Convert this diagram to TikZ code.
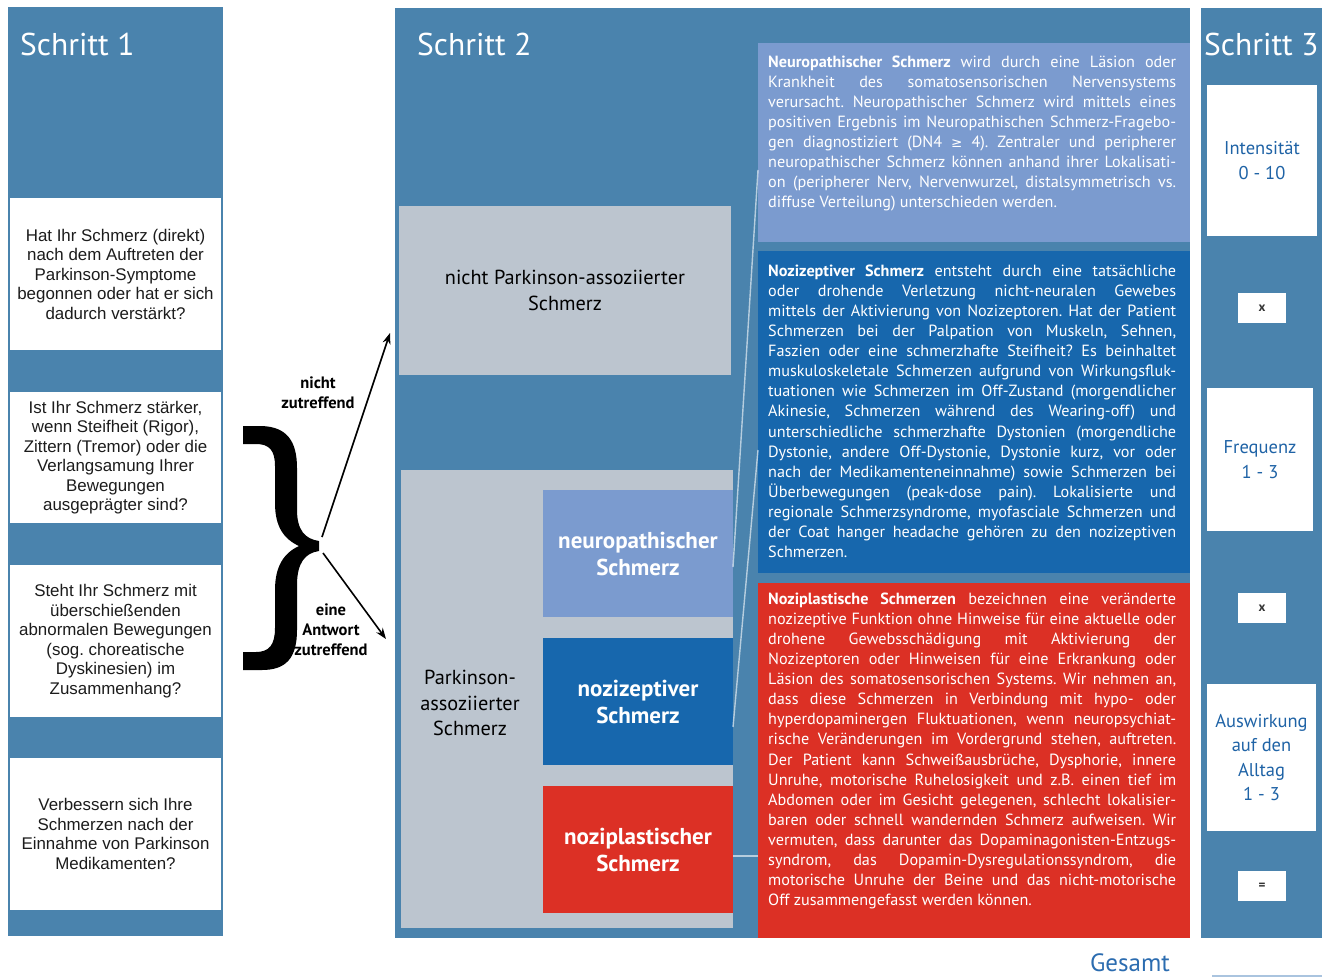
\documentclass[tikz,border=0pt]{standalone}
\usepackage{fontspec}
\setmainfont{PT Sans}
\newfontfamily\arialf{Liberation Sans}
\newfontfamily\djv{DejaVu Sans}
\usetikzlibrary{arrows.meta}
\definecolor{panel}{HTML}{4A83AD}
\definecolor{grayb}{HTML}{BCC5CF}
\definecolor{neuc}{HTML}{7B9BCF}
\definecolor{nozc}{HTML}{1767AD}
\definecolor{nplc}{HTML}{DC3025}
\definecolor{sthree}{HTML}{1F63A6}
\definecolor{gesc}{HTML}{2B6CB0}
\definecolor{qtext}{HTML}{1C1C1C}
\newcommand\jline[1]{\hbox to 408pt{#1}}
\newcommand\lline[1]{\hbox to 408pt{#1\hfil}}
\tikzset{
  nw/.style={anchor=north west, inner sep=0pt, outer sep=0pt, draw=none},
  panelbox/.style={nw, fill=panel},
  title/.style={anchor=base west, inner sep=0pt, text=white, font=\fontsize{31.5}{36}\selectfont},
  qbox/.style={nw, fill=white, minimum width=211pt, align=center, text=qtext,
     font=\arialf\fontsize{16.9}{19.5}\selectfont},
  catbox/.style={nw, fill=grayb, align=center, font=\fontsize{20.3}{25.5}\selectfont},
  subbox/.style={nw, minimum width=190pt, minimum height=127pt, align=center, text=white,
     font=\bfseries\fontsize{23}{27}\selectfont},
  txtbox/.style={nw, minimum width=432pt},
  bodytxt/.style={anchor=base west, inner sep=0pt, text=white},
  s3box/.style={nw, fill=white, align=center, text=sthree, font=\fontsize{18.5}{24.5}\selectfont},
  opbox/.style={nw, fill=white, minimum width=48pt, minimum height=30pt, align=center, text=black!80,
     font=\bfseries\fontsize{13}{14}\selectfont},
  lbl/.style={align=center, inner sep=0pt, font=\bfseries\fontsize{16.5}{20}\selectfont},
  arr/.style={-{Stealth[length=11pt,width=8pt]}, line width=1.6pt, black},
  faint/.style={draw=white, opacity=0.6, line width=1.4pt}
}
\begin{document}
\frenchspacing
\begin{tikzpicture}[x=1pt,y=-1pt]
\useasboundingbox (0,0) rectangle (1324,977);
\fill[white] (0,0) rectangle (1324,977);

% ---------- Schritt 1 ----------
\node[panelbox, minimum width=215pt, minimum height=929pt] (p1) at (8,7) {};
\node[title] (t1) at (20,55) {Schritt 1};
\node[qbox, minimum height=152pt] (q1) at (10,198) {Hat Ihr Schmerz (direkt)\\nach dem Auftreten der\\Parkinson-Symptome\\begonnen oder hat er sich\\dadurch verstärkt?};
\node[qbox, minimum height=131pt] (q2) at (10,392) {Ist Ihr Schmerz stärker,\\wenn Steifheit (Rigor),\\Zittern (Tremor) oder die\\Verlangsamung Ihrer\\Bewegungen\\ausgeprägter sind?};
\node[qbox, minimum height=152pt] (q3) at (10,565) {Steht Ihr Schmerz mit\\überschießenden\\abnormalen Bewegungen\\(sog. choreatische\\Dyskinesien) im\\Zusammenhang?};
\node[qbox, minimum height=152pt] (q4) at (10,758) {Verbessern sich Ihre\\Schmerzen nach der\\Einnahme von Parkinson\\Medikamenten?};

% ---------- brace and arrows ----------
\fill[black] (243,426) -- (262,426) .. controls (286,427) and (297,440) .. (297,468)
  -- (297,510) .. controls (297,530) and (305,539) .. (319,541)
  -- (319,551) .. controls (305,553) and (297,563) .. (297,585)
  -- (297,630) .. controls (297,658) and (286,670) .. (262,670)
  -- (243,670) -- (243,652) -- (256,652) .. controls (269,652) and (275,645) .. (275,628)
  -- (275,590) .. controls (275,566) and (284,553) .. (299,546)
  .. controls (284,539) and (275,527) .. (275,503)
  -- (275,466) .. controls (275,450) and (269,444) .. (256,444)
  -- (243,444) -- cycle;
\coordinate (tipU) at (322,537);
\coordinate (tipD) at (323,553);
\coordinate (endU) at (390,333);
\coordinate (endD) at (386,639);
\draw[arr] (tipU) -- (endU);
\draw[arr] (tipD) -- (endD);
\node[lbl] (lnicht) at (318,393) {nicht\\zutreffend};
\node[lbl] (leine) at (331,630) {eine\\Antwort\\zutreffend};

% ---------- Schritt 2 ----------
\node[panelbox, minimum width=795pt, minimum height=930pt] (p2) at (395,8) {};
\node[title] (t2) at (417,55) {Schritt 2};
\node[catbox, minimum width=332pt, minimum height=169pt] (npbox) at (399,206) {nicht Parkinson-assoziierter\\Schmerz};
\node[catbox, minimum width=332pt, minimum height=458pt] (pbox) at (401,470) {};
\node[align=center, inner sep=0pt, font=\fontsize{20.3}{25.5}\selectfont] (ptxt) at (470,703) {Parkinson-\\assoziierter\\Schmerz};
\node[subbox, fill=neuc] (neusub) at (543,490) {neuropathischer\\Schmerz};
\node[subbox, fill=nozc] (nozsub) at (543,638) {nozizeptiver\\Schmerz};
\node[subbox, fill=nplc] (nplsub) at (543,786) {noziplastischer\\Schmerz};

% text boxes
\node[txtbox, fill=neuc, minimum height=199pt] (neubox) at (758,43) {};
\node[txtbox, fill=nozc, minimum height=322pt] (nozbox) at (758,251) {};
\node[txtbox, fill=nplc, minimum height=355pt] (nplbox) at (758,583) {};

% faint connectors
\draw[faint] ([yshift=-27.5pt]neubox.west) -- ([yshift=-13.5pt]neusub.east);
\draw[faint] ([yshift=-38pt]nozbox.west) -- ([yshift=-25.5pt]nozsub.east);
\draw[faint] ([yshift=-95.5pt]nplbox.west) -- ([yshift=-6.5pt]nplsub.east);

\node[bodytxt] (neutxt) at (768,67) {\fontsize{16.2}{20.13}\selectfont\vtop{%
\jline{\textbf{Neuropathischer Schmerz} wird durch eine Läsion oder}
\jline{Krankheit des somatosensorischen Nervensystems}
\jline{verursacht. Neuropathischer Schmerz wird mittels eines}
\jline{positiven Ergebnis im Neuropathischen Schmerz-Fragebo-}
\jline{gen diagnostiziert (DN4 {\djv\fontsize{13.5}{15}\selectfont ≥} 4). Zentraler und peripherer}
\jline{neuropathischer Schmerz können anhand ihrer Lokalisati-}
\jline{on (peripherer Nerv, Nervenwurzel, distalsymmetrisch vs.}
\lline{diffuse Verteilung) unterschieden werden.}}};

\node[bodytxt] (noztxt) at (768,276) {\fontsize{16.2}{20.13}\selectfont\vtop{%
\jline{\textbf{Nozizeptiver Schmerz} entsteht durch eine tatsächliche}
\jline{oder drohende Verletzung nicht-neuralen Gewebes}
\jline{mittels der Aktivierung von Nozizeptoren. Hat der Patient}
\jline{Schmerzen bei der Palpation von Muskeln, Sehnen,}
\jline{Faszien oder eine schmerzhafte Steifheit? Es beinhaltet}
\jline{muskuloskeletale Schmerzen aufgrund von Wirkungsfluk-}
\jline{tuationen wie Schmerzen im Off-Zustand (morgendlicher}
\jline{Akinesie, Schmerzen während des Wearing-off) und}
\jline{unterschiedliche schmerzhafte Dystonien (morgendliche}
\jline{Dystonie, andere Off-Dystonie, Dystonie kurz, vor oder}
\jline{nach der Medikamenteneinnahme) sowie Schmerzen bei}
\jline{Überbewegungen (peak-dose pain). Lokalisierte und}
\jline{regionale Schmerzsyndrome, myofasciale Schmerzen und}
\jline{der Coat hanger headache gehören zu den nozizeptiven}
\lline{Schmerzen.}}};

\node[bodytxt] (npltxt) at (768,604) {\fontsize{16.2}{20.13}\selectfont\vtop{%
\jline{\textbf{Noziplastische Schmerzen} bezeichnen eine veränderte}
\jline{nozizeptive Funktion ohne Hinweise für eine aktuelle oder}
\jline{drohene Gewebsschädigung mit Aktivierung der}
\jline{Nozizeptoren oder Hinweisen für eine Erkrankung oder}
\jline{Läsion des somatosensorischen Systems. Wir nehmen an,}
\jline{dass diese Schmerzen in Verbindung mit hypo- oder}
\jline{hyperdopaminergen Fluktuationen, wenn neuropsychiat-}
\jline{rische Veränderungen im Vordergrund stehen, auftreten.}
\jline{Der Patient kann Schweißausbrüche, Dysphorie, innere}
\jline{Unruhe, motorische Ruhelosigkeit und z.B. einen tief im}
\jline{Abdomen oder im Gesicht gelegenen, schlecht lokalisier-}
\jline{baren oder schnell wandernden Schmerz aufweisen. Wir}
\jline{vermuten, dass darunter das Dopaminagonisten-Entzugs-}
\jline{syndrom, das Dopamin-Dysregulationssyndrom, die}
\jline{motorische Unruhe der Beine und das nicht-motorische}
\lline{Off zusammengefasst werden können.}}};

% ---------- Schritt 3 ----------
\node[panelbox, minimum width=121pt, minimum height=930pt] (p3) at (1201,8) {};
\node[title] (t3) at (1204,55) {Schritt 3};
\node[s3box, minimum width=110pt, minimum height=151pt] (int) at (1207,85) {Intensität\\0 - 10};
\node[opbox] (op1) at (1238,293) {x};
\node[s3box, minimum width=106pt, minimum height=143pt] (freq) at (1207,388) {Frequenz\\1 - 3};
\node[opbox] (op2) at (1238,593) {x};
\node[s3box, minimum width=109pt, minimum height=147pt] (ausw) at (1207,684) {Auswirkung\\auf den\\Alltag\\1 - 3};
\node[opbox] (op3) at (1238,871) {=};

% ---------- Gesamt ----------
\node[inner sep=0pt, text=gesc, font=\fontsize{25}{28}\selectfont] (ges) at (1130,963) {Gesamt};
\draw[color=gesc!40, line width=1.5pt] (1212,976) -- (1322,976);
\end{tikzpicture}
\end{document}
